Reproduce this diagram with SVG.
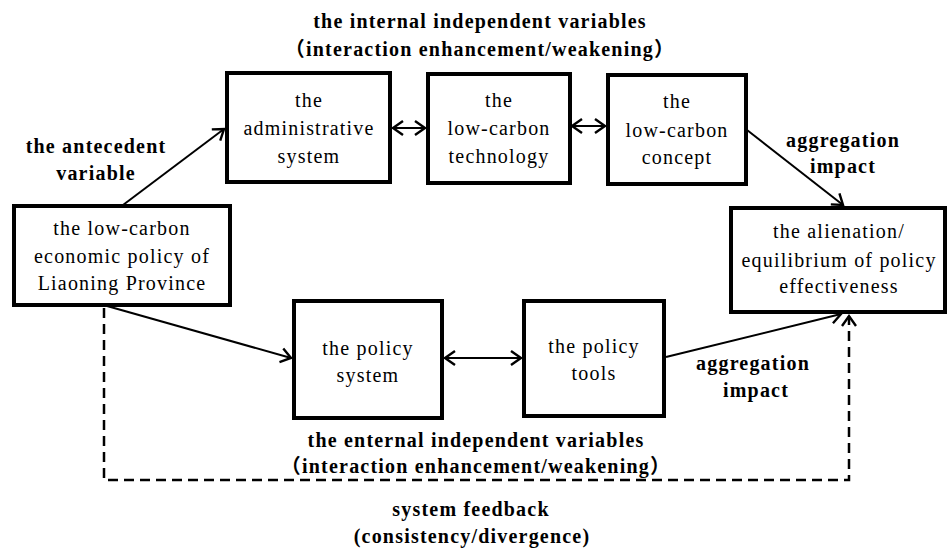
<svg xmlns="http://www.w3.org/2000/svg" width="951" height="548" viewBox="0 0 951 548">
<defs>
<style>
.box{fill:#fff;stroke:#000;stroke-width:4}
.t{font-family:"Liberation Serif","Noto Sans CJK SC",serif;font-size:20px;letter-spacing:1.2px;text-anchor:middle;fill:#000}
.b{font-family:"Liberation Serif","Noto Sans CJK SC",serif;font-size:20px;font-weight:bold;letter-spacing:1.2px;text-anchor:middle;fill:#000}
.c{fill:none;stroke:#000;stroke-width:2}
.d{fill:none;stroke:#000;stroke-width:2.5;stroke-dasharray:10 6}
</style>
<marker id="ah" markerUnits="userSpaceOnUse" markerWidth="18" markerHeight="18" viewBox="-13 -9 15 18" refX="0" refY="0" orient="auto-start-reverse">
<path d="M-10,-7 L0,0 L-10,7" fill="none" stroke="#000" stroke-width="2.4"/>
</marker>
</defs>
<rect width="951" height="548" fill="#fff"/>
<g id="connectors">
<line class="c" x1="123" y1="205" x2="224" y2="129" marker-end="url(#ah)"/>
<line class="c" x1="393" y1="128" x2="425" y2="128" marker-start="url(#ah)" marker-end="url(#ah)"/>
<line class="c" x1="572" y1="126" x2="605" y2="126" marker-start="url(#ah)" marker-end="url(#ah)"/>
<line class="c" x1="747" y1="130" x2="843" y2="205" marker-end="url(#ah)"/>
<line class="c" x1="107" y1="306" x2="291" y2="358" marker-end="url(#ah)"/>
<line class="c" x1="445" y1="358" x2="521" y2="358" marker-start="url(#ah)" marker-end="url(#ah)"/>
<line class="c" x1="666" y1="357" x2="841" y2="314" marker-end="url(#ah)"/>
<polyline class="d" points="104,308 104,480 849,480 849,316" marker-end="url(#ah)"/>
</g>
<g id="title-internal">
<text class="b" x="480" y="28">the internal independent variables</text>
<text class="b" x="480" y="56">（interaction enhancement/weakening）</text>
</g>
<g id="label-antecedent">
<text class="b" x="96" y="153">the antecedent</text>
<text class="b" x="96" y="180">variable</text>
</g>
<g id="label-aggregation-top">
<text class="b" x="843" y="147">aggregation</text>
<text class="b" x="843" y="173">impact</text>
</g>
<g id="label-aggregation-bottom">
<text class="b" x="753" y="370">aggregation</text>
<text class="b" x="756" y="397">impact</text>
</g>
<g id="title-external">
<text class="b" x="476" y="447">the enternal independent variables</text>
<text class="b" x="476" y="473">（interaction enhancement/weakening）</text>
</g>
<g id="label-feedback">
<text class="b" x="471" y="516">system feedback</text>
<text class="b" x="472" y="543">(consistency/divergence)</text>
</g>
<g id="node-admin">
<rect class="box" x="227" y="73" width="163" height="109"/>
<text class="t" x="309" y="107">the</text>
<text class="t" x="309" y="135">administrative</text>
<text class="t" x="309" y="163">system</text>
</g>
<g id="node-tech">
<rect class="box" x="428" y="74" width="142" height="109"/>
<text class="t" x="499" y="107">the</text>
<text class="t" x="499" y="135">low-carbon</text>
<text class="t" x="499" y="163">technology</text>
</g>
<g id="node-concept">
<rect class="box" x="608" y="75" width="138" height="109"/>
<text class="t" x="677" y="108">the</text>
<text class="t" x="677" y="137">low-carbon</text>
<text class="t" x="677" y="164">concept</text>
</g>
<g id="node-policy">
<rect class="box" x="14" y="206" width="216" height="99"/>
<text class="t" x="122" y="235">the low-carbon</text>
<text class="t" x="122" y="263">economic policy of</text>
<text class="t" x="122" y="290">Liaoning Province</text>
</g>
<g id="node-outcome">
<rect class="box" x="731" y="208" width="214" height="104"/>
<text class="t" x="839" y="238">the alienation/</text>
<text class="t" x="839" y="267">equilibrium of policy</text>
<text class="t" x="839" y="293">effectiveness</text>
</g>
<g id="node-policy-system">
<rect class="box" x="294" y="301" width="148" height="117"/>
<text class="t" x="368" y="355">the policy</text>
<text class="t" x="368" y="382">system</text>
</g>
<g id="node-policy-tools">
<rect class="box" x="524" y="301" width="140" height="115"/>
<text class="t" x="594" y="353">the policy</text>
<text class="t" x="594" y="380">tools</text>
</g>
</svg>
